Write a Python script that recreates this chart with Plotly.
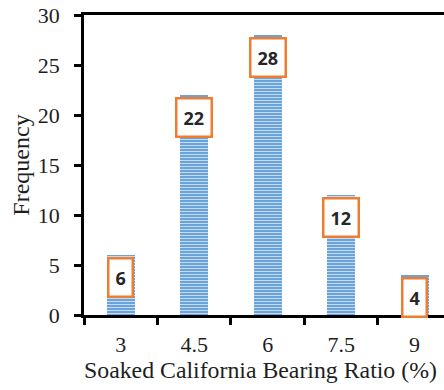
import plotly.graph_objects as go

categories = ["3", "4.5", "6", "7.5", "9"]
frequency = [6, 22, 28, 12, 4]
y_ticks = [0, 5, 10, 15, 20, 25, 30]
x_title = "Soaked California Bearing Ratio (%)"
y_title = "Frequency"

SERIF = "Liberation Serif"
TXT = "#1e1e1e"

fig = go.Figure()
fig.add_trace(go.Bar(
    x=categories,
    y=frequency,
    width=0.38,
    marker=dict(
        color="#6fa6dc",
        line=dict(width=0),
        pattern=dict(shape="-", fgcolor="#c5dcf2", bgcolor="#6aa3da",
                     size=3, solidity=0.35, fillmode="replace"),
    ),
    showlegend=False,
    hoverinfo="skip",
))

for i, v in enumerate(frequency):
    fig.add_annotation(
        x=i, y=v, xref="x", yref="y", yanchor="top", yshift=-2,
        text=f"<b>{v}</b>", showarrow=False,
        font=dict(family="Open Sans", size=18, color="#262626"),
        bgcolor="white", bordercolor="#ED7D31", borderwidth=2.5, borderpad=6,
    )

# x-axis title placed as annotation to match its slightly off-centre position
fig.add_annotation(
    x=0.49, y=-0.183, xref="paper", yref="paper",
    xanchor="center", yanchor="middle", showarrow=False,
    text=x_title, font=dict(family=SERIF, size=23.8, color=TXT),
)

fig.update_layout(
    width=444, height=390,
    margin=dict(l=84, r=0, t=15, b=75, autoexpand=False),
    paper_bgcolor="white", plot_bgcolor="white",
    bargap=0,
    xaxis=dict(
        type="category",
        range=[-0.5, 4.4],
        automargin=False,
        showline=True, linecolor="black", linewidth=2.5, mirror=True,
        ticks="outside", tickson="boundaries", ticklen=7, tickwidth=2.5, tickcolor="black",
        tickfont=dict(family=SERIF, size=22, color=TXT),
        ticklabelstandoff=8,
        showgrid=False, zeroline=False,
    ),
    yaxis=dict(
        range=[0, 30],
        tickvals=y_ticks,
        automargin=False,
        ticklabeloverflow="allow",
        showline=True, linecolor="black", linewidth=2.5,
        ticks="outside", ticklen=7, tickwidth=2.5, tickcolor="black",
        tickfont=dict(family=SERIF, size=22, color=TXT),
        ticklabelstandoff=10,
        title=dict(text=y_title, font=dict(family=SERIF, size=24, color=TXT), standoff=2),
        showgrid=False, zeroline=False,
    ),
)

# remove the browser's default 8px body margin so the figure fills the window
fig.write_html("out.html", config={"displayModeBar": False},
               post_script="document.body.style.margin='0';")
